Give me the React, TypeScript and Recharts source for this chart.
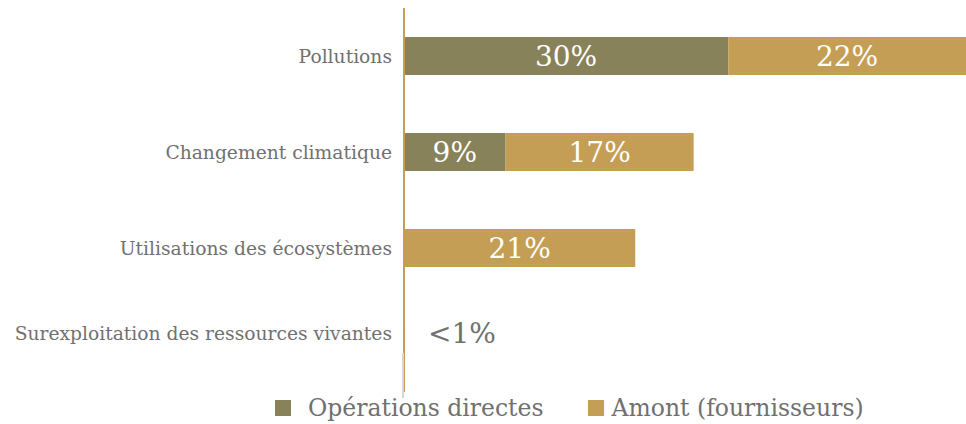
import { BarChart, Bar, XAxis, YAxis, LabelList } from 'recharts';

const categories = [
  'Pollutions',
  'Changement climatique',
  'Utilisations des écosystèmes',
  'Surexploitation des ressources vivantes',
];
const operationsDirectes = [30, 9.4, 0, 0];
const amontFournisseurs = [22, 17.4, 21.4, 0.1];
const operationsLabels = ['30%', '9%', '', ''];
const amontLabels = ['22%', '17%', '21%', '<1%'];

const OLIVE = '#87825a';
const GOLD = '#c49e55';
const GREY_TEXT = '#707070';
const FONT = '"DejaVu Serif", serif';

const chartData = categories.map((name, i) => ({
  name,
  ops: operationsDirectes[i],
  amont: amontFournisseurs[i],
  opsLabel: operationsLabels[i],
  amontLabel: amontLabels[i],
}));

// the last row sits a little higher than its band in the original
const lastRowLift = (index: number) => (index === categories.length - 1 ? -11 : 0);

function CategoryTick(props: any) {
  const { x, y, payload, index } = props;
  return (
    <text
      x={x}
      y={y + lastRowLift(index)}
      textAnchor='end'
      dominantBaseline='central'
      fill={GREY_TEXT}
      fontSize={18.7}
      fontFamily={FONT}
    >
      {payload.value}
    </text>
  );
}

function BarValue(props: any) {
  const { x, y, width, height, value, index } = props;
  if (!value) return null;
  const small = width < 20;
  return (
    <text
      x={small ? x + 58 : x + width / 2}
      y={y + height / 2 + (small ? lastRowLift(index) : 0)}
      textAnchor='middle'
      dominantBaseline='central'
      fill={small ? GREY_TEXT : '#ffffff'}
      fontSize={28}
      fontFamily={FONT}
    >
      {value}
    </text>
  );
}

function LegendItem({ color, label, gap, after }: { color: string; label: string; gap: number; after: number }) {
  return (
    <span style={{ display: 'inline-flex', alignItems: 'center', marginRight: after }}>
      <span style={{ width: 16, height: 16, background: color, display: 'inline-block', marginRight: gap }} />
      <span>{label}</span>
    </span>
  );
}

export default function App() {
  return (
    <div style={{ position: 'absolute', left: 0, top: 0, width: 966, height: 424, background: '#fff' }}>
      <BarChart
        width={966}
        height={424}
        data={chartData}
        layout='vertical'
        margin={{ top: 8, right: 0, bottom: 32, left: 0 }}
        barSize={38}
      >
        <XAxis type='number' domain={[0, 52]} hide />
        <YAxis
          type='category'
          dataKey='name'
          width={404}
          tickLine={false}
          tickSize={0}
          tickMargin={12}
          axisLine={{ stroke: GOLD, strokeWidth: 2 }}
          tick={<CategoryTick />}
        />
        <Bar dataKey='ops' stackId='a' fill={OLIVE} isAnimationActive={false}>
          <LabelList dataKey='opsLabel' content={BarValue} />
        </Bar>
        <Bar dataKey='amont' stackId='a' fill={GOLD} isAnimationActive={false}>
          <LabelList dataKey='amontLabel' content={BarValue} />
        </Bar>
      </BarChart>
      {/* grey tail of the axis line below the last row */}
      <div style={{ position: 'absolute', left: 402, top: 353, width: 2, height: 45, background: '#d6d6d6' }} />
      <div
        style={{
          position: 'absolute',
          left: 275,
          top: 394,
          fontFamily: FONT,
          fontSize: 23.5,
          color: GREY_TEXT,
          whiteSpace: 'nowrap',
          display: 'flex',
        }}
      >
        <LegendItem color={OLIVE} label='Opérations directes' gap={17} after={44} />
        <LegendItem color={GOLD} label='Amont (fournisseurs)' gap={8} after={0} />
      </div>
    </div>
  );
}
